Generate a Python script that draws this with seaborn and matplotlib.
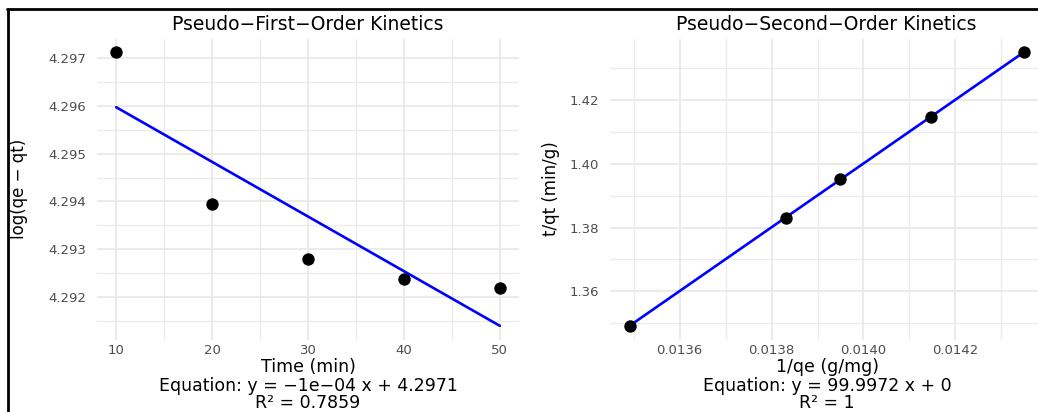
import numpy as np
import pandas as pd
import matplotlib
matplotlib.use("Agg")
import matplotlib.pyplot as plt
from matplotlib.lines import Line2D
from matplotlib.ticker import MultipleLocator, FormatStrFormatter
import seaborn as sns

# ---- data ----
time_min = [10, 20, 30, 40, 50]
log_qe_qt = [4.29712, 4.29395, 4.29279, 4.29237, 4.29220]
inv_qe = [0.013491, 0.013832, 0.013949, 0.014147, 0.014349]
t_qt = [1.34923, 1.38314, 1.39517, 1.41476, 1.43498]

title_left = "Pseudo\u2212First\u2212Order Kinetics"
title_right = "Pseudo\u2212Second\u2212Order Kinetics"
xlab_left = "Time (min)"
ylab_left = "log(qe \u2212 qt)"
xlab_right = "1/qe (g/mg)"
ylab_right = "t/qt (min/g)"
eq_left = ["Equation: y = \u22121e\u221204 x + 4.2971", "R\u00b2 = 0.7859"]
eq_right = ["Equation: y = 99.9972 x + 0", "R\u00b2 = 1"]

left_xticks = [10, 20, 30, 40, 50]
left_yticks = [4.292, 4.293, 4.294, 4.295, 4.296, 4.297]
right_xticks = [0.0136, 0.0138, 0.0140, 0.0142]
right_yticks = [1.36, 1.38, 1.40, 1.42]

sns.set_theme(style="white")
plt.rcParams["font.family"] = ["DejaVu Sans"]

W, H = 1038, 412
fig = plt.figure(figsize=(W / 100, H / 100), dpi=100)

def px_ax(x0, x1, ytop, ybot):
    return fig.add_axes([x0 / W, (H - ybot) / H, (x1 - x0) / W, (ybot - ytop) / H])

axL = px_ax(97, 519, 38.5, 339.5)
axR = px_ax(609.8, 1043.6, 38.5, 339.5)

dfL = pd.DataFrame({"x": time_min, "y": log_qe_qt})
dfR = pd.DataFrame({"x": inv_qe, "y": t_qt})

grid_col = "#EBEBEB"
tick_col = "#4D4D4D"

def expand(lo, hi, f=0.05):
    r = hi - lo
    return lo - f * r, hi + f * r

for ax, df, xt, yt, xminor, yminor, xfmt, yfmt in [
    (axL, dfL, left_xticks, left_yticks, 5, 0.0005, "%d", "%.3f"),
    (axR, dfR, right_xticks, right_yticks, 0.0001, 0.01, "%.4f", "%.2f"),
]:
    sns.regplot(data=df, x="x", y="y", ax=ax, scatter=False, ci=None,
                truncate=True, color="#0000FF", line_kws={"lw": 1.9, "zorder": 3})
    sns.scatterplot(data=df, x="x", y="y", ax=ax, color="black", s=80,
                    edgecolor="black", linewidth=0, zorder=4)
    slope, icpt = np.polyfit(df["x"], df["y"], 1)
    xs = np.array([df["x"].min(), df["x"].max()])
    ys = np.concatenate([df["y"].values, slope * xs + icpt])
    ax.set_xlim(*expand(xs[0], xs[1]))
    ax.set_ylim(*expand(ys.min(), ys.max()))
    ax.set_xticks(xt)
    ax.set_yticks(yt)
    ax.xaxis.set_minor_locator(MultipleLocator(xminor))
    ax.yaxis.set_minor_locator(MultipleLocator(yminor))
    ax.xaxis.set_major_formatter(FormatStrFormatter(xfmt))
    ax.yaxis.set_major_formatter(FormatStrFormatter(yfmt))
    ax.grid(True, which="major", color=grid_col, lw=1.4, zorder=0)
    ax.grid(True, which="minor", color=grid_col, lw=0.9, zorder=0)
    ax.set_axisbelow(True)
    for s in ax.spines.values():
        s.set_visible(False)
    ax.tick_params(which="both", length=0, labelsize=9.5, labelcolor=tick_col)
    ax.tick_params(axis="x", pad=3)
    ax.tick_params(axis="y", pad=7.5)
    ax.set_xlabel("")
    ax.set_ylabel("")

axL.set_title(title_left, fontsize=13.5, pad=6, color="black")
axR.set_title(title_right, fontsize=13.5, pad=6, color="black")

axL.set_ylabel(ylab_left, fontsize=12, color="black")
axL.yaxis.set_label_coords((28 - 97) / 422, 0.5)
axR.set_ylabel(ylab_right, fontsize=12, color="black")
axR.yaxis.set_label_coords((560 - 609.8) / 433.8, 0.5)

def ftxt(xp, yp, s, size=12.5):
    fig.text(xp / W, (H - yp) / H, s, ha="center", va="center", fontsize=size, color="black")

cL = (97 + 519) / 2
cR = 827
ftxt(cL, 367, xlab_left)
ftxt(cL, 386, eq_left[0])
ftxt(cL, 403, eq_left[1])
ftxt(cR, 367, xlab_right)
ftxt(cR, 386, eq_right[0])
ftxt(cR, 403, eq_right[1])

# screenshot frame lines (top and left)
fig.add_artist(Line2D([7 / W, 1.0], [(H - 8.7) / H] * 2, transform=fig.transFigure,
                      color="black", lw=2.0))
fig.add_artist(Line2D([8 / W] * 2, [0, (H - 8.7) / H], transform=fig.transFigure,
                      color="black", lw=2.0))

fig.savefig("out.png", dpi=100)
